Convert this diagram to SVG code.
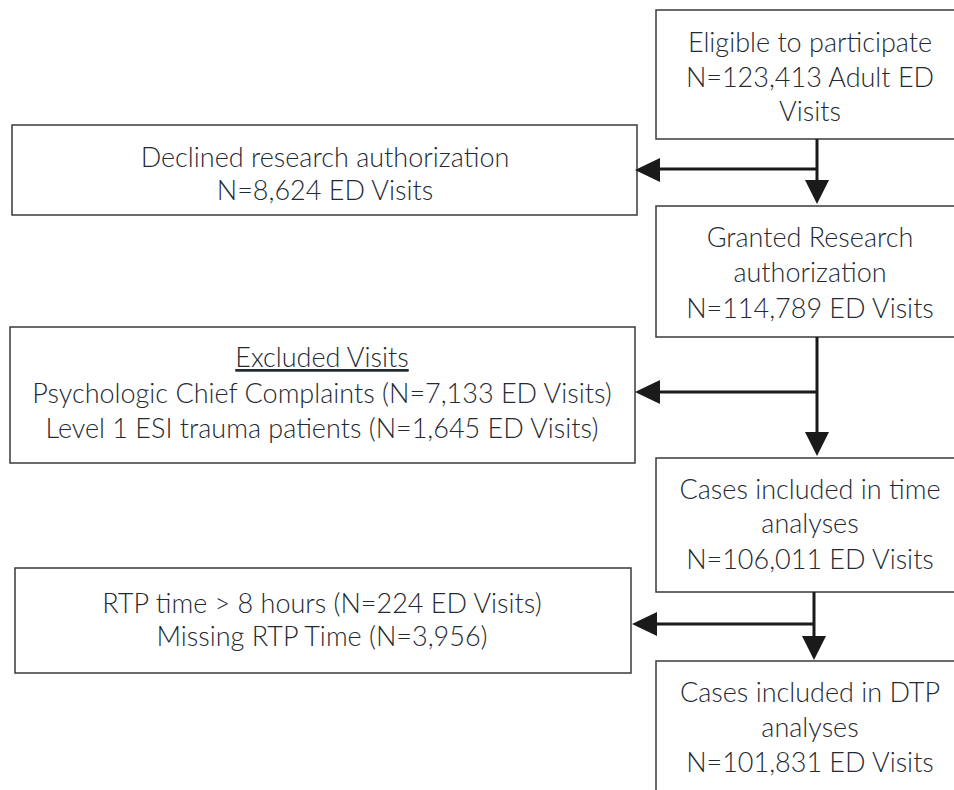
<svg xmlns="http://www.w3.org/2000/svg" width="954" height="790" viewBox="0 0 954 790">
<defs>
<style>
.box{fill:#fff;stroke:#3a3a3a;stroke-width:1.5}
.t{font-family:Lato,"Open Sans","Liberation Sans",sans-serif;font-weight:300;font-size:27px;fill:#1f2a33;text-anchor:middle}
.ln{stroke:#1a1a1a;stroke-width:3;fill:none}
.ah{fill:#1a1a1a}
</style>
</defs>
<rect width="954" height="790" fill="#fff"/>
<g id="eligible">
<rect class="box" x="656" y="10" width="310" height="129"/>
<text class="t" x="810" y="52">Eligible to participate</text>
<text class="t" x="810" y="87">N=123,413 Adult ED</text>
<text class="t" x="810" y="121">Visits</text>
</g>
<g id="declined">
<rect class="box" x="12" y="125" width="625" height="90"/>
<text class="t" x="325" y="167">Declined research authorization</text>
<text class="t" x="325" y="200">N=8,624 ED Visits</text>
</g>
<g id="granted">
<rect class="box" x="656" y="206" width="310" height="131"/>
<text class="t" x="810" y="247">Granted Research</text>
<text class="t" x="810" y="282">authorization</text>
<text class="t" x="810" y="318">N=114,789 ED Visits</text>
</g>
<g id="excluded">
<rect class="box" x="10" y="327" width="625" height="136"/>
<text class="t" x="322" y="367" text-decoration="underline">Excluded Visits</text>
<text class="t" x="322" y="403">Psychologic Chief Complaints (N=7,133 ED Visits)</text>
<text class="t" x="322" y="438">Level 1 ESI trauma patients (N=1,645 ED Visits)</text>
</g>
<g id="time">
<rect class="box" x="656" y="458" width="310" height="134"/>
<text class="t" x="810" y="499">Cases included in time</text>
<text class="t" x="810" y="533">analyses</text>
<text class="t" x="810" y="569">N=106,011 ED Visits</text>
</g>
<g id="rtp">
<rect class="box" x="15" y="568" width="616" height="105"/>
<text class="t" x="322" y="613">RTP time &gt; 8 hours (N=224 ED Visits)</text>
<text class="t" x="322" y="646">Missing RTP Time (N=3,956)</text>
</g>
<g id="dtp">
<rect class="box" x="656" y="661" width="310" height="140"/>
<text class="t" x="810" y="702">Cases included in DTP</text>
<text class="t" x="810" y="737">analyses</text>
<text class="t" x="810" y="772">N=101,831 ED Visits</text>
</g>
<g id="connectors">
<path class="ln" d="M817 139V182M817 169H658"/>
<path class="ah" d="M635 170L660 158V182Z"/>
<path class="ah" d="M817 204L805 180H829Z"/>
<path class="ln" d="M817 337V434M817 392H658"/>
<path class="ah" d="M635 392L660 380V404Z"/>
<path class="ah" d="M817 456L805 432H829Z"/>
<path class="ln" d="M814 592V637M814 624H655"/>
<path class="ah" d="M632 624L657 612V636Z"/>
<path class="ah" d="M814 660L802 636H826Z"/>
</g>
</svg>
